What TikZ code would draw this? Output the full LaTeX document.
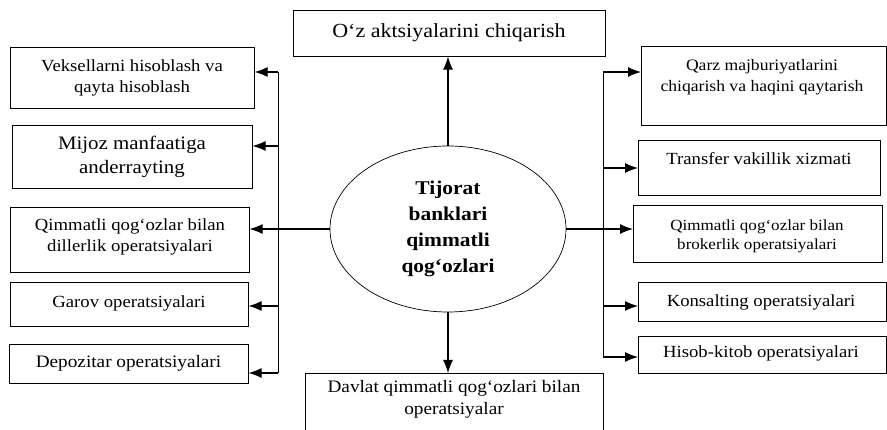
\documentclass[tikz,border=0pt]{standalone}
\usepackage{fontspec}
\setmainfont[FakeStretch=1.1]{Liberation Serif}
\usetikzlibrary{shapes.geometric,arrows.meta}
\tikzset{
  box/.style={draw, line width=0.6pt, inner sep=0pt, anchor=north west},
  txt/.style 2 args={font=\fontsize{#1}{#2}\selectfont, align=center, inner sep=0pt},
  ln/.style={line width=0.7pt},
  arr/.style={line width=1.1pt, -{Latex[length=13pt,width=10pt]}},
}
\begin{document}
\begin{tikzpicture}[x=1pt,y=-1pt]
\useasboundingbox (0,0) rectangle (887,430);
% central ellipse
\node[draw, line width=0.7pt, ellipse, minimum width=236pt, minimum height=166pt, inner sep=0pt,
      font=\fontsize{19.5}{26}\selectfont\bfseries, align=center] (E) at (448,229)
  {Tijorat\\banklari\\qimmatli\\qog‘ozlari};
% top and bottom boxes
\node[box, minimum width=312pt, minimum height=46pt] (T) at (293,10) {};
\node[txt={20}{24}] (Tt) at (449,33) {O‘z aktsiyalarini chiqarish};
\node[box, minimum width=298pt, minimum height=62pt] (B) at (305,373) {};
\node[txt={17.5}{22}] (Bt) at (454,399) {Davlat qimmatli qog‘ozlari bilan\\operatsiyalar};
% left boxes
\node[box, minimum width=244pt, minimum height=61pt] (L1) at (10,47) {};
\node[txt={17}{21}] (L1t) at (132,77.5) {Veksellarni hisoblash va\\qayta hisoblash};
\node[box, minimum width=240pt, minimum height=63pt] (L2) at (12,125) {};
\node[txt={19}{24}] (L2t) at (132,157) {Mijoz manfaatiga\\anderrayting};
\node[box, minimum width=239pt, minimum height=65pt] (L3) at (10,207) {};
\node[txt={17}{21}] (L3t) at (130,237) {Qimmatli qog‘ozlar bilan\\dillerlik operatsiyalari};
\node[box, minimum width=238pt, minimum height=44pt] (L4) at (10,282) {};
\node[txt={17}{21}] (L4t) at (129,303) {Garov operatsiyalari};
\node[box, minimum width=239pt, minimum height=39pt] (L5) at (9,344) {};
\node[txt={17.5}{21}] (L5t) at (128.5,363.5) {Depozitar operatsiyalari};
% right boxes
\node[box, minimum width=245pt, minimum height=79pt] (R1) at (641,46) {};
\node[txt={16}{21}] (R1t) at (762,77) {Qarz majburiyatlarini\\chiqarish va haqini qaytarish};
\node[box, minimum width=242pt, minimum height=55pt] (R2) at (638,140) {};
\node[txt={17}{21}] (R2t) at (759,159) {Transfer vakillik xizmati};
\node[box, minimum width=249pt, minimum height=57pt] (R3) at (633,205) {};
\node[txt={15.5}{19}] (R3t) at (757,236) {Qimmatli qog‘ozlar bilan\\brokerlik operatsiyalari};
\node[box, minimum width=248pt, minimum height=39pt] (R4) at (638,282) {};
\node[txt={17}{21}] (R4t) at (761,302) {Konsalting operatsiyalari};
\node[box, minimum width=248pt, minimum height=37pt] (R5) at (638,336) {};
\node[txt={17}{21}] (R5t) at (761,353) {Hisob-kitob operatsiyalari};
% connectors: vertical
\draw[arr] (E.north) -- (E.north |- T.south);
\draw[arr] (E.south) -- (E.south |- B.north);
% left bus
\coordinate (la) at (278,72);
\coordinate (lb) at (278,146);
\coordinate (lc) at (278,306);
\coordinate (ld) at (278,373);
\draw[ln] (la) -- (ld);
\draw[arr] (la) -- (la -| L1.east);
\draw[arr] (lb) -- (lb -| L2.east);
\draw[arr] (E.west) -- (E.west -| L3.east);
\draw[arr] (lc) -- (lc -| L4.east);
\draw[arr] (ld) -- (ld -| L5.east);
% right bus
\coordinate (ra) at (603,72);
\coordinate (rb) at (603,168);
\coordinate (rc) at (603,306);
\coordinate (rd) at (603,357);
\draw[ln] (ra) -- (rd);
\draw[arr] (ra) -- (ra -| R1.west);
\draw[arr] (rb) -- (rb -| R2.west);
\draw[arr] (E.east) -- (E.east -| R3.west);
\draw[arr] (rc) -- (rc -| R4.west);
\draw[arr] (rd) -- (rd -| R5.west);
\end{tikzpicture}
\end{document}
